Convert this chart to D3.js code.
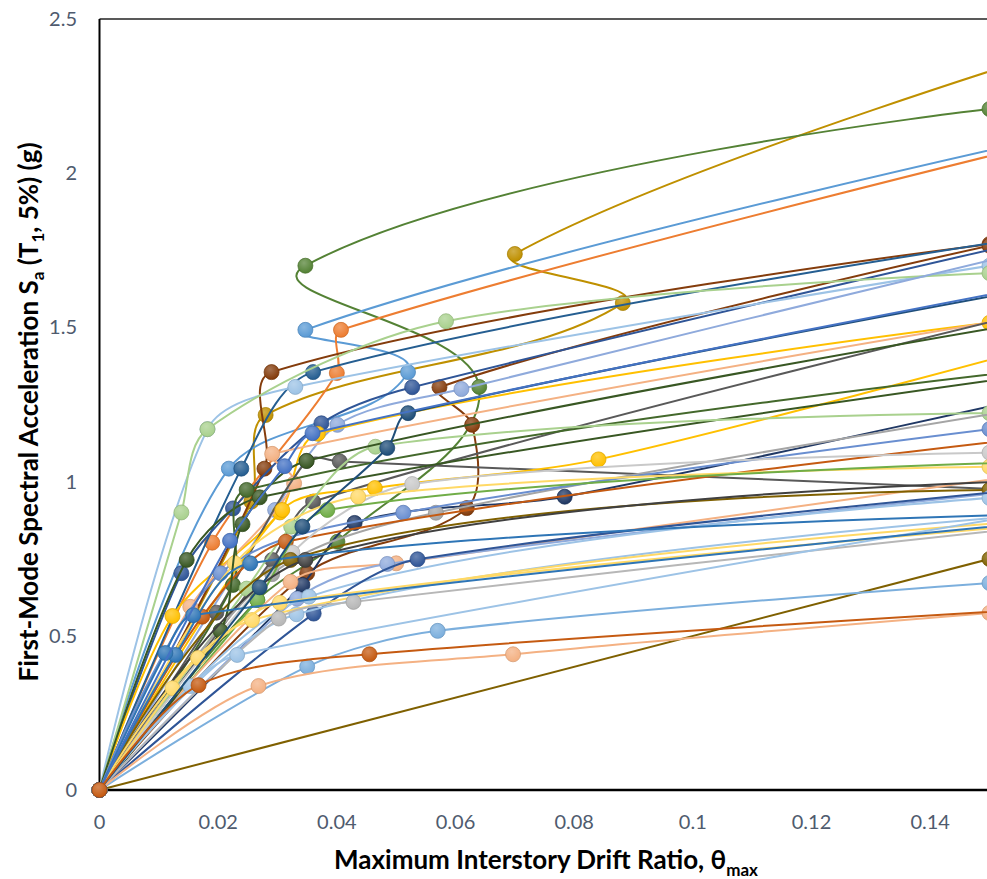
<!DOCTYPE html>
<html>
<head>
<meta charset="utf-8">
<script src="https://cdn.jsdelivr.net/npm/d3@7"></script>
<style>
body { margin: 0; background: #fff; }
svg { display: block; }
</style>
</head>
<body>
<div id="chart"></div>
<script>
// tick values
var xTicks = [0, 0.02, 0.04, 0.06, 0.08, 0.1, 0.12, 0.14];
var yTicks = [0, 0.5, 1, 1.5, 2, 2.5];

// IDA curves: [drift ratio, Sa(g)] per record (points past 0.15 run off the chart)
var s01 = [[0, 0], [0.0256, 0.935], [0.028, 1.216], [0.0882, 1.579], [0.070, 1.738], [0.17, 2.45]];
var s02 = [[0, 0], [0.0266, 0.616], [0.0401, 0.805], [0.064, 1.307], [0.0347, 1.70], [0.15, 2.208]];
var s03 = [[0, 0], [0.0218, 1.042], [0.052, 1.355], [0.0347, 1.492], [0.17, 2.16]];
var s04 = [[0, 0], [0.019, 0.802], [0.040, 1.352], [0.0407, 1.492], [0.17, 2.15]];
var s05 = [[0, 0], [0.0278, 1.042], [0.029, 1.355], [0.15, 1.77]];
var s06 = [[0, 0], [0.035, 0.703], [0.0619, 0.914], [0.0628, 1.184], [0.0573, 1.306], [0.15, 1.765]];
var s07 = [[0, 0], [0.0239, 1.042], [0.036, 1.355], [0.17, 1.83]];
var s08 = [[0, 0], [0.0138, 0.703], [0.0225, 0.913], [0.0374, 1.189], [0.0527, 1.306], [0.17, 1.84]];
var s09 = [[0, 0], [0.0182, 1.17], [0.033, 1.307], [0.15, 1.70]];
var s10 = [[0, 0], [0.0138, 0.90], [0.0182, 1.17], [0.0584, 1.52], [0.15, 1.676]];
var s11 = [[0, 0], [0.0296, 0.908], [0.0401, 1.184], [0.061, 1.30], [0.17, 1.81]];
var s12 = [[0, 0], [0.0123, 0.564], [0.0304, 0.90], [0.0368, 1.155], [0.15, 1.515]];
var s13 = [[0, 0], [0.0153, 0.594], [0.0328, 0.994], [0.0291, 1.09], [0.17, 1.58]];
var s14 = [[0, 0], [0.0291, 0.746], [0.036, 0.935], [0.17, 1.61]];
var s15 = [[0, 0], [0.0197, 0.575], [0.0349, 1.067], [0.0405, 1.065], [0.17, 0.96]];
var s16 = [[0, 0], [0.0308, 0.908], [0.0464, 0.979], [0.0841, 1.072], [0.17, 1.50]];
var s17 = [[0, 0], [0.0147, 0.746], [0.027, 0.949], [0.17, 1.38]];
var s18 = [[0, 0], [0.0225, 0.665], [0.0248, 0.973], [0.17, 1.39]];
var s19 = [[0, 0], [0.0342, 0.665], [0.043, 0.866], [0.0784, 0.951], [0.17, 1.33]];
var s20 = [[0, 0], [0.0248, 0.653], [0.0323, 0.854], [0.0465, 1.113], [0.15, 1.222]];
var s21 = [[0, 0], [0.0291, 0.70], [0.0567, 0.899], [0.17, 1.28]];
var s22 = [[0, 0], [0.0204, 0.703], [0.0512, 0.899], [0.15, 1.17]];
var s23 = [[0, 0], [0.0173, 0.562], [0.0314, 0.805], [0.17, 1.17]];
var s24 = [[0, 0], [0.0325, 0.77], [0.0527, 0.992], [0.15, 1.094]];
var s25 = [[0, 0], [0.0228, 0.735], [0.0436, 0.951], [0.15, 1.048]];
var s26 = [[0, 0], [0.0266, 0.616], [0.0384, 0.908], [0.17, 1.07]];
var s27 = [[0, 0], [0.0322, 0.675], [0.05, 0.735], [0.17, 1.06]];
var s28 = [[0, 0], [0.0322, 0.746], [0.15, 0.973]];
var s29 = [[0, 0], [0.0204, 0.516], [0.0241, 0.862], [0.0349, 1.067], [0.17, 1.56]];
var s30 = [[0, 0], [0.0347, 0.746], [0.17, 1.01]];
var s31 = [[0, 0], [0.0333, 0.62], [0.0485, 0.733], [0.17, 1.0]];
var s32 = [[0, 0], [0.0353, 0.627], [0.15, 0.947]];
var s33 = [[0, 0], [0.0361, 0.572], [0.0536, 0.748], [0.17, 1.0]];
var s34 = [[0, 0], [0.0128, 0.438], [0.0254, 0.735], [0.17, 0.90]];
var s35 = [[0, 0], [0.0332, 0.57], [0.17, 0.91]];
var s36 = [[0, 0], [0.0257, 0.551], [0.17, 0.89]];
var s37 = [[0, 0], [0.0302, 0.556], [0.0428, 0.61], [0.17, 0.88]];
var s38 = [[0, 0], [0.15, 0.749]];
var s39 = [[0, 0], [0.035, 0.40], [0.057, 0.516], [0.15, 0.671]];
var s40 = [[0, 0], [0.0268, 0.337], [0.0697, 0.44], [0.15, 0.574]];
var s41 = [[0, 0], [0.0123, 0.33], [0.0166, 0.428], [0.0304, 0.607], [0.17, 0.88]];
var s42 = [[0, 0], [0.0153, 0.337], [0.0232, 0.438], [0.17, 0.94]];
var s43 = [[0, 0], [0.0111, 0.444], [0.0158, 0.567], [0.17, 0.89]];
var s44 = [[0, 0], [0.027, 0.657], [0.0342, 0.854], [0.0485, 1.109], [0.052, 1.222], [0.17, 1.67]];
var s45 = [[0, 0], [0.022, 0.808], [0.0312, 1.05], [0.0359, 1.157], [0.17, 1.68]];
var s46 = [[0, 0], [0.0167, 0.34], [0.0455, 0.44], [0.17, 0.60]];

var seriesList = [s01, s02, s03, s04, s05, s06, s07, s08, s09, s10, s11, s12, s13, s14, s15, s16,
    s17, s18, s19, s20, s21, s22, s23, s24, s25, s26, s27, s28, s29, s30, s31, s32, s33, s34, s35,
    s36, s37, s38, s39, s40, s41, s42, s43, s44, s45, s46];
var seriesColors = ["#BF9000", "#548235", "#5B9BD5", "#ED7D31", "#843C0C", "#843C0C", "#255E91", "#2F5597",
    "#9DC3E6", "#A9D18E", "#8FAADC", "#FFC000", "#F4B183", "#595959", "#595959", "#FFC000",
    "#385723", "#43682B", "#203864", "#A9D18E", "#A5A5A5", "#698ED0", "#C55A11", "#C9C9C9", "#FFD966",
    "#70AD47", "#F4B183", "#7F6000", "#385723", "#404040", "#8FAADC", "#9DC3E6", "#2F5597", "#2E75B6",
    "#9DC3E6", "#FFD966", "#B7B7B7", "#7F6000", "#7CAFDD", "#F4B183", "#FFD966", "#9DC3E6", "#2E75B6",
    "#1F4E79", "#4472C4", "#C55A11"];

var W = 987, H = 879;
var plot = { left: 99.5, top: 19, right: 989.5, bottom: 790 };

var svg = d3.select("#chart").append("svg")
    .attr("width", W)
    .attr("height", H);

var xScale = d3.scaleLinear().domain([0, 0.15]).range([plot.left, plot.right]);
var yScale = d3.scaleLinear().domain([0, 2.5]).range([plot.bottom, plot.top]);

var defs = svg.append("defs");
defs.append("clipPath")
    .attr("id", "plotClip")
    .append("rect")
    .attr("x", plot.left)
    .attr("y", plot.top)
    .attr("width", plot.right - plot.left)
    .attr("height", plot.bottom - plot.top);

// soft highlight on markers, like the spreadsheet's default shading
var grad = defs.append("radialGradient")
    .attr("id", "shine")
    .attr("cx", "40%").attr("cy", "30%").attr("r", "70%");
grad.append("stop").attr("offset", "0%").attr("stop-color", "#fff").attr("stop-opacity", 0.28);
grad.append("stop").attr("offset", "100%").attr("stop-color", "#fff").attr("stop-opacity", 0);

// spreadsheet-style smoothing: tangent along (next - prev), arms scaled by each segment's length
var smoothK = 0.3;
function smoothCurve(context) {
    var pts = [];
    return {
        areaStart: function () {},
        areaEnd: function () {},
        lineStart: function () { pts = []; },
        point: function (px, py) { pts.push([+px, +py]); },
        lineEnd: function () {
            var n = pts.length;
            if (!n) return;
            context.moveTo(pts[0][0], pts[0][1]);
            var tan = pts.map(function (p, i) {
                if (i === 0 || i === n - 1) return [0, 0];
                var dx = pts[i + 1][0] - pts[i - 1][0];
                var dy = pts[i + 1][1] - pts[i - 1][1];
                var len = Math.sqrt(dx * dx + dy * dy) || 1;
                return [dx / len, dy / len];
            });
            for (var i = 0; i < n - 1; i++) {
                var a = pts[i], b = pts[i + 1];
                var arm = Math.sqrt((b[0] - a[0]) * (b[0] - a[0]) + (b[1] - a[1]) * (b[1] - a[1])) * smoothK;
                context.bezierCurveTo(
                    a[0] + tan[i][0] * arm, a[1] + tan[i][1] * arm,
                    b[0] - tan[i + 1][0] * arm, b[1] - tan[i + 1][1] * arm,
                    b[0], b[1]);
            }
        }
    };
}

// tick labels
var tickFont = "Lato, 'Open Sans', sans-serif";
svg.append("g")
    .selectAll("text")
    .data(xTicks)
    .enter().append("text")
    .attr("x", function (d) { return xScale(d); })
    .attr("y", 829)
    .attr("text-anchor", "middle")
    .style("font-family", tickFont)
    .style("font-size", "20px")
    .style("fill", "#4F5B6E")
    .text(function (d) { return d; });

svg.append("g")
    .selectAll("text")
    .data(yTicks)
    .enter().append("text")
    .attr("x", 77)
    .attr("y", function (d) { return yScale(d) + 7; })
    .attr("text-anchor", "end")
    .style("font-family", tickFont)
    .style("font-size", "20px")
    .style("fill", "#4F5B6E")
    .text(function (d) { return d; });

// plot frame
svg.append("line")
    .attr("x1", plot.left).attr("x2", plot.right)
    .attr("y1", plot.top).attr("y2", plot.top)
    .style("stroke", "#222").style("stroke-width", 1.5);
svg.append("line")
    .attr("x1", plot.left).attr("x2", plot.left)
    .attr("y1", plot.top).attr("y2", plot.bottom)
    .style("stroke", "#000").style("stroke-width", 2);
svg.append("line")
    .attr("x1", plot.left - 1).attr("x2", plot.right)
    .attr("y1", plot.bottom).attr("y2", plot.bottom)
    .style("stroke", "#000").style("stroke-width", 2.5);

// curves
var line = d3.line()
    .x(function (d) { return xScale(d[0]); })
    .y(function (d) { return yScale(d[1]); })
    .curve(smoothCurve);

var layer = svg.append("g");
seriesList.forEach(function (pts, i) {
    var col = seriesColors[i];
    layer.append("path")
        .attr("clip-path", "url(#plotClip)")
        .attr("d", line(pts))
        .style("fill", "none")
        .style("stroke", col)
        .style("stroke-width", 2);
    var shown = pts.filter(function (p) { return p[0] <= 0.15 + 1e-9; });
    var dots = layer.selectAll(null)
        .data(shown)
        .enter();
    dots.append("circle")
        .attr("cx", function (p) { return xScale(p[0]); })
        .attr("cy", function (p) { return yScale(p[1]); })
        .attr("r", 7.5)
        .style("fill", col)
        .style("stroke", d3.color(col).darker(0.4))
        .style("stroke-width", 0.75);
    dots.append("circle")
        .attr("cx", function (p) { return xScale(p[0]); })
        .attr("cy", function (p) { return yScale(p[1]); })
        .attr("r", 7)
        .style("fill", "url(#shine)");
});

// axis titles
var titleFont = "Lato, 'Open Sans', sans-serif";
var xt = svg.append("text")
    .attr("x", 546)
    .attr("y", 869)
    .attr("text-anchor", "middle")
    .style("font-family", titleFont)
    .style("font-weight", "bold")
    .style("font-size", "26px")
    .style("fill", "#000");
xt.append("tspan").text("Maximum Interstory Drift Ratio, \u03B8");
xt.append("tspan").attr("dy", 7).style("font-size", "17px").text("max");

var yt = svg.append("text")
    .attr("transform", "translate(38,412) rotate(-90)")
    .attr("text-anchor", "middle")
    .style("font-family", titleFont)
    .style("font-weight", "bold")
    .style("font-size", "26px")
    .style("fill", "#000");
yt.append("tspan").text("First-Mode Spectral Acceleration S");
yt.append("tspan").attr("dy", 6).style("font-size", "17px").text("a");
yt.append("tspan").attr("dy", -6).text(" (T");
yt.append("tspan").attr("dy", 6).style("font-size", "17px").text("1");
yt.append("tspan").attr("dy", -6).text(", 5%) (g)");
</script>
</body>
</html>
